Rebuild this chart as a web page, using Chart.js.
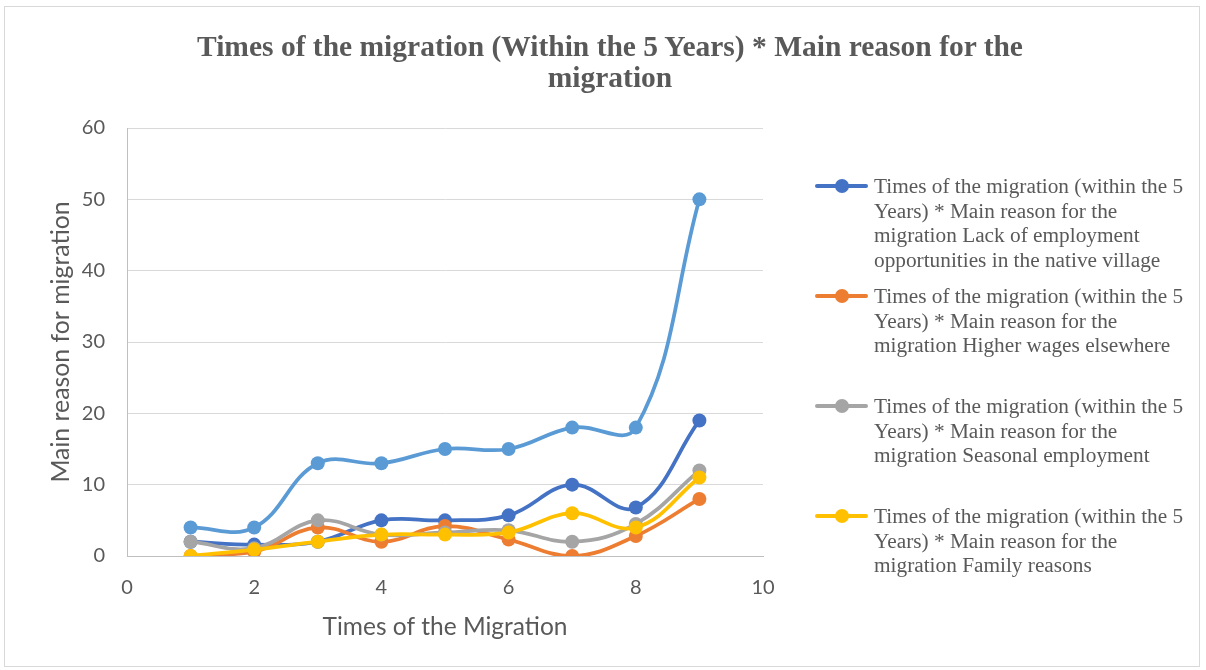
<!DOCTYPE html>
<html>
<head>
<meta charset="utf-8">
<script src="https://cdn.jsdelivr.net/npm/chart.js@4/dist/chart.umd.min.js"></script>
<style>
  html, body { margin: 0; padding: 0; background: #ffffff; }
  #wrap { position: relative; width: 1206px; height: 670px; overflow: hidden; }
  #frame { position: absolute; left: 4px; top: 6px; width: 1196px; height: 661px; border: 1px solid #d9d9d9; box-sizing: border-box; }
  canvas { position: absolute; left: 0; top: 0; }
  #title { position: absolute; left: 110px; width: 1000px; top: 31px; text-align: center; font-family: "Liberation Serif", "Times New Roman", serif; font-weight: bold; font-size: 29.5px; line-height: 31px; color: #595959; }
  #legend { position: absolute; left: 0; top: 0; width: 1206px; height: 670px; pointer-events: none; }
  .entry { position: absolute; left: 815px; width: 380px; }
  .swatch { position: absolute; left: 0; top: 10px; width: 53px; height: 4px; border-radius: 2px; }
  .dot { position: absolute; left: 20px; top: 5px; width: 14px; height: 14px; border-radius: 50%; }
  .txt { position: absolute; left: 59px; top: 0; font-family: "Liberation Serif", "Times New Roman", serif; font-size: 21.3px; line-height: 24.7px; color: #595959; white-space: nowrap; }
</style>
</head>
<body>
<div id="wrap">
  <div id="frame"></div>
  <canvas id="c" width="1206" height="670"></canvas>
  <div id="title"></div>
  <div id="legend"></div>
</div>
<script>
// Times of migration (x) and counts per main reason (y)
const times = [1, 2, 3, 4, 5, 6, 7, 8, 9];
const lackOfEmployment = [2, 1.6, 2, 5, 5, 5.7, 10, 6.8, 19];
const higherWages      = [0, 0.6, 4, 2, 4.2, 2.3, 0, 2.8, 8];
const seasonal         = [2, 1.1, 5, 3, 3.3, 3.6, 2, 4.5, 12];
const familyReasons    = [0, 0.9, 2, 3, 3, 3.3, 6, 4, 11];
const totalReasons     = [4, 4, 13, 13, 15, 15, 18, 18, 50];

const xTicks = [0, 2, 4, 6, 8, 10];
const yTicks = [0, 10, 20, 30, 40, 50, 60];

const titleLines = ["Times of the migration (Within the 5 Years) * Main reason for the", "migration"];
const xTitle = "Times of the Migration";
const yTitle = "Main reason for migration";

// Legend text, one array of wrapped lines per series
const legendLines = [
  ["Times of the migration (within the 5", "Years) * Main reason for the", "migration Lack of employment", "opportunities in the native village"],
  ["Times of the migration (within the 5", "Years) * Main reason for the", "migration Higher wages elsewhere"],
  ["Times of the migration (within the 5", "Years) * Main reason for the", "migration Seasonal employment"],
  ["Times of the migration (within the 5", "Years) * Main reason for the", "migration Family reasons"]
];
const seriesColors = ["#4472C4", "#ED7D31", "#A5A5A5", "#FFC000", "#5B9BD5"];

const seriesValues = [lackOfEmployment, higherWages, seasonal, familyReasons, totalReasons];
const seriesNames = legendLines.map(l => l.join(" ")).concat(["Total"]);

function pts(vals) { return vals.map((v, i) => ({ x: times[i], y: v })); }
function esc(s) { return s.replace(/&/g, "&amp;").replace(/</g, "&lt;"); }

document.getElementById("title").innerHTML = titleLines.map(esc).join("<br>");

const drawOrder = [5, 4, 3, 2, 1];
const datasets = seriesValues.map((vals, i) => ({
  label: seriesNames[i],
  data: pts(vals),
  borderColor: seriesColors[i],
  backgroundColor: seriesColors[i],
  pointBackgroundColor: seriesColors[i],
  pointBorderColor: seriesColors[i],
  pointRadius: 7,
  pointBorderWidth: 0,
  borderWidth: 3.75,
  tension: 0.4,
  fill: false,
  order: drawOrder[i]
}));

const axisFont = { family: "Lato, 'Open Sans', sans-serif", size: 20 };
const xTitleFont = { family: "Lato, 'Open Sans', sans-serif", size: 24.5 };
const yTitleFont = { family: "Lato, 'Open Sans', sans-serif", size: 24.8 };

new Chart(document.getElementById("c"), {
  type: "line",
  data: { datasets },
  options: {
    responsive: false,
    animation: false,
    events: [],
    layout: { padding: { left: 46, right: 443, top: 128, bottom: 20 } },
    plugins: {
      legend: { display: false },
      tooltip: { enabled: false },
      title: { display: false }
    },
    scales: {
      x: {
        type: "linear",
        min: 0, max: 10,
        afterBuildTicks: s => { s.ticks = xTicks.map(v => ({ value: v })); },
        ticks: { color: "#595959", font: axisFont, padding: 20, maxRotation: 0 },
        grid: { display: false, drawTicks: false },
        border: { display: true, color: "#BFBFBF", width: 1 },
        title: { display: true, text: xTitle, color: "#595959", font: xTitleFont, padding: { top: 4, bottom: 8 } },
        afterFit: s => { s.height = 670 - 556 - 20; }
      },
      y: {
        min: 0, max: 60,
        afterBuildTicks: s => { s.ticks = yTicks.map(v => ({ value: v })); },
        ticks: { color: "#595959", font: axisFont, padding: 22 },
        grid: { color: "#D9D9D9", lineWidth: 1, drawTicks: false },
        border: { display: true, color: "#BFBFBF", width: 1 },
        title: { display: true, text: yTitle, color: "#595959", font: yTitleFont, padding: { top: 0, bottom: 0 } },
        afterFit: s => { s.width = 127 - 46; }
      }
    }
  }
});

// Legend entries to the right of the plot (first four series)
const legend = document.getElementById("legend");
legendLines.forEach((lines, i) => {
  const e = document.createElement("div");
  e.className = "entry";
  e.style.top = (174 + i * 110) + "px";
  const sw = document.createElement("div");
  sw.className = "swatch"; sw.style.background = seriesColors[i];
  const dot = document.createElement("div");
  dot.className = "dot"; dot.style.background = seriesColors[i];
  const t = document.createElement("div");
  t.className = "txt";
  t.innerHTML = lines.map(esc).join("<br>");
  e.appendChild(sw); e.appendChild(dot); e.appendChild(t);
  legend.appendChild(e);
});
</script>
</body>
</html>
